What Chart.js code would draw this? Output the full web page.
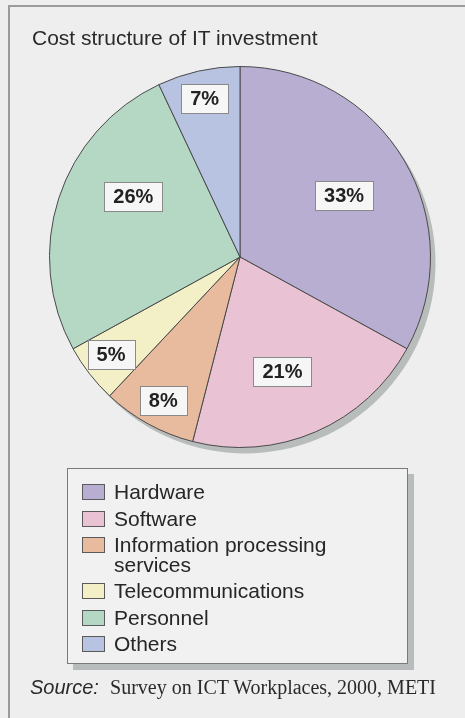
<!DOCTYPE html>
<html>
<head>
<meta charset="utf-8">
<script src="https://cdn.jsdelivr.net/npm/chart.js@4.4.1/dist/chart.umd.min.js"></script>
<style>
  html, body { margin: 0; padding: 0; }
  body { width: 465px; height: 718px; background: #eeeeee; position: relative; overflow: hidden; font-family: "Liberation Sans", Arial, sans-serif; }
  #frame { position: absolute; left: 8px; top: 5px; right: -4px; bottom: -4px; border-left: 2px solid #9a9a9a; border-top: 2px solid #9a9a9a; }
  #title { position: absolute; left: 32px; top: 26px; font-size: 21px; color: #2a2a2a; white-space: nowrap; line-height: 24px; }
  #wrap { position: absolute; left: 0; top: 0; width: 465px; height: 718px; }
  #legend { position: absolute; left: 67px; top: 468px; width: 339px; height: 194px; border: 1px solid #7a7a7a; background: #f1f1f1; box-shadow: 6px 6px 0 #b9bcbc; }
  #legend ul { list-style: none; margin: 0; padding: 13px 0 0 14px; }
  #legend li { position: relative; padding-left: 32px; margin-bottom: 7px; font-size: 21px; line-height: 19.5px; color: #262626; max-width: 250px; }
  #legend li span.sw { position: absolute; left: 0; top: 2px; width: 21px; height: 14px; border: 1px solid #5a5a5a; }
  #source { position: absolute; left: 30px; top: 676px; font-size: 20px; color: #2a2a2a; white-space: nowrap; line-height: 22px; }
  #source i { font-family: "Liberation Sans", Arial, sans-serif; }
  #source span { font-family: "Liberation Serif", "Times New Roman", serif; }
</style>
</head>
<body>
<div id="frame"></div>
<div id="wrap"><canvas id="c" width="465" height="718"></canvas></div>
<div id="title">Cost structure of IT investment</div>
<div id="legend"><ul id="legendList"></ul></div>
<div id="source"><i>Source:</i>&nbsp; <span>Survey on ICT Workplaces, 2000, METI</span></div>
<script>
const categories = ['Hardware', 'Software', 'Information processing services', 'Telecommunications', 'Personnel', 'Others'];
const shares = [33, 21, 8, 5, 26, 7];
const valueLabels = ['33%', '21%', '8%', '5%', '26%', '7%'];
const sliceColors = ['#b7aed1', '#e9c3d4', '#e8bb9e', '#f3f0c8', '#b4d8c4', '#b7c3e1'];

// label placement inside each slice: fraction of radius and angular tweak (degrees)
const labelPlacement = [
  { r: 0.635, da: 0 },
  { r: 0.64, da: 3 },
  { r: 0.855, da: -0.7 },
  { r: 0.85, da: 0.6 },
  { r: 0.645, da: 11.7 },
  { r: 0.85, da: 0 }
];

const shadowPlugin = {
  id: 'pieShadow',
  beforeDatasetsDraw(chart) {
    const meta = chart.getDatasetMeta(0);
    if (!meta.data.length) return;
    const a = meta.data[0];
    const ctx = chart.ctx;
    ctx.save();
    ctx.fillStyle = '#b8bdbc';
    ctx.beginPath();
    ctx.arc(a.x + 5, a.y + 6, a.outerRadius, 0, Math.PI * 2);
    ctx.fill();
    ctx.restore();
  }
};

const boxLabelPlugin = {
  id: 'boxLabels',
  afterDatasetsDraw(chart) {
    const meta = chart.getDatasetMeta(0);
    const ctx = chart.ctx;
    ctx.save();
    ctx.font = 'bold 20px "Liberation Sans", Arial, sans-serif';
    ctx.textAlign = 'center';
    ctx.textBaseline = 'middle';
    meta.data.forEach((arc, i) => {
      const p = labelPlacement[i];
      const mid = (arc.startAngle + arc.endAngle) / 2 + p.da * Math.PI / 180;
      const rr = arc.outerRadius * p.r;
      const x = arc.x + Math.cos(mid) * rr;
      const y = arc.y + Math.sin(mid) * rr;
      const txt = valueLabels[i];
      const w = ctx.measureText(txt).width + 18;
      const h = 29;
      ctx.fillStyle = '#f6f6f6';
      ctx.fillRect(Math.round(x - w / 2) + 0.5, Math.round(y - h / 2) + 0.5, Math.round(w), h);
      ctx.strokeStyle = '#8a8a8a';
      ctx.lineWidth = 1;
      ctx.strokeRect(Math.round(x - w / 2) + 0.5, Math.round(y - h / 2) + 0.5, Math.round(w), h);
      ctx.fillStyle = '#222222';
      ctx.fillText(txt, x, y + 1);
    });
    ctx.restore();
  }
};

new Chart(document.getElementById('c'), {
  type: 'pie',
  data: {
    labels: categories,
    datasets: [{
      data: shares,
      backgroundColor: sliceColors,
      borderColor: '#4a4a4a',
      borderWidth: 1
    }]
  },
  options: {
    responsive: false,
    animation: false,
    layout: { padding: { left: 49, right: 34, top: 66, bottom: 270 } },
    plugins: {
      legend: { display: false },
      tooltip: { enabled: false },
      title: { display: false }
    }
  },
  plugins: [shadowPlugin, boxLabelPlugin]
});

const ul = document.getElementById('legendList');
categories.forEach((name, i) => {
  const li = document.createElement('li');
  const sw = document.createElement('span');
  sw.className = 'sw';
  sw.style.background = sliceColors[i];
  li.appendChild(sw);
  li.appendChild(document.createTextNode(name));
  ul.appendChild(li);
});
</script>
</body>
</html>
